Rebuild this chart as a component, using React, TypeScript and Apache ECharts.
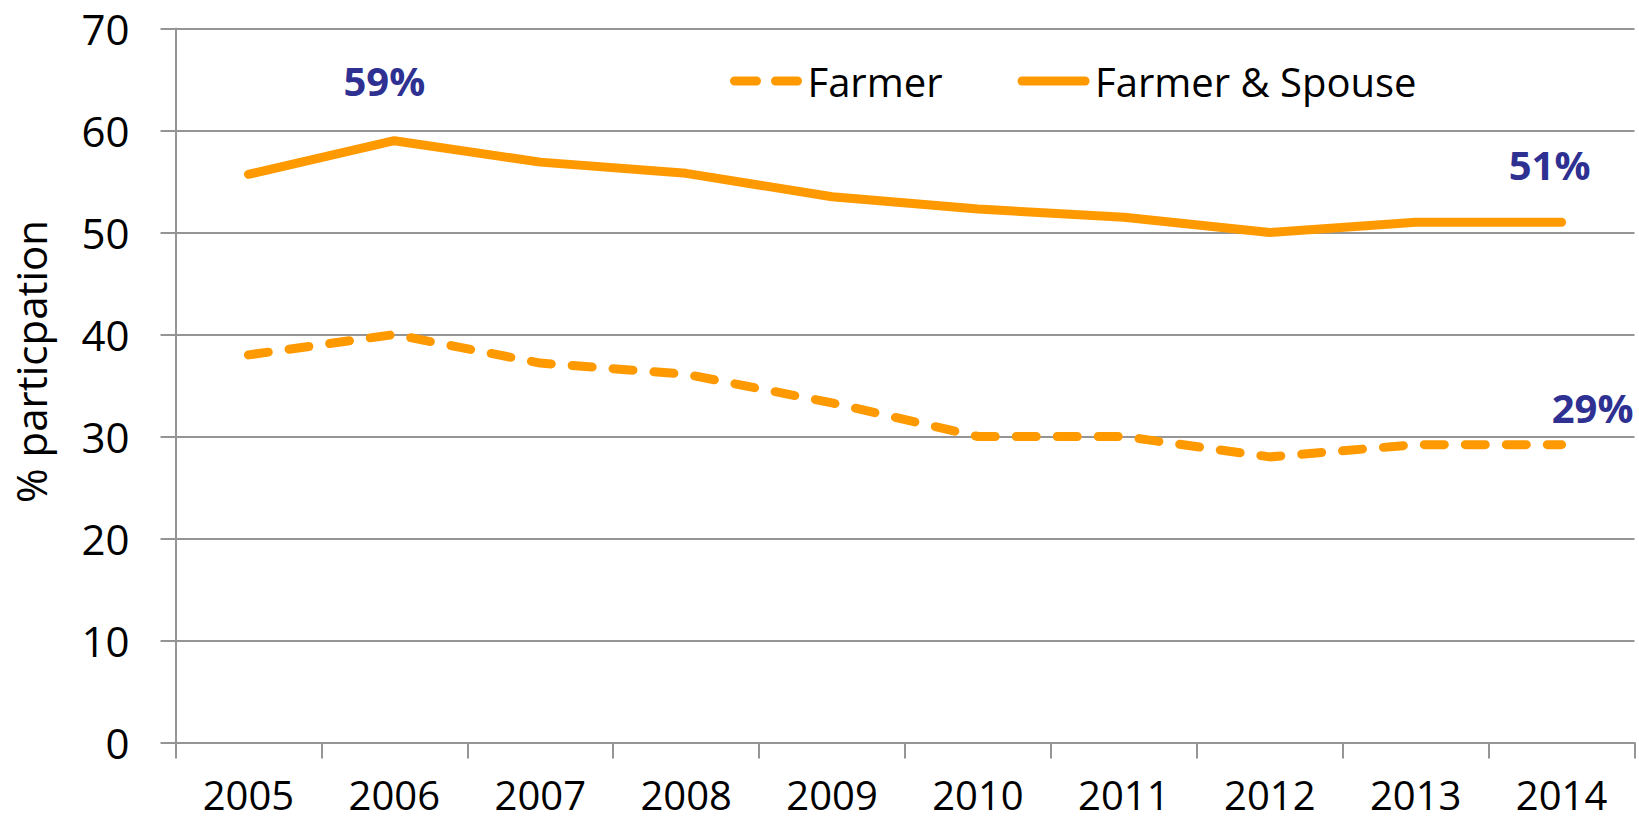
import React, { useEffect, useRef } from "react";
import * as echarts from "echarts";

const years = ["2005", "2006", "2007", "2008", "2009", "2010", "2011", "2012", "2013", "2014"];
const farmer = [38, 40, 37.2, 36.1, 33.3, 30, 30, 28, 29.2, 29.2];
const farmerSpouse = [55.7, 59, 56.9, 55.8, 53.5, 52.3, 51.5, 50, 51, 51];
const yMin = 0;
const yMax = 70;
const yInterval = 10;
const spouseLabelIdx = [1, 9];
const farmerLabelIdx = [9];

const FONT = "'Open Sans', sans-serif";
const ORANGE = "#FF9900";
const NAVY = "#2E3192";
const GRAY = "#959595";
const CLEAR = "rgba(0,0,0,0)";

const labelOffsets: Record<string, [number, number]> = {
  "spouse-1": [-10, -40],
  "spouse-9": [-12, -37],
  "farmer-9": [31, -17],
};

function buildData(values: number[], idx: number[], key: string) {
  return values.map((v, i) =>
    idx.includes(i)
      ? {
          value: v,
          label: {
            show: true,
            position: "top",
            distance: 0,
            offset: labelOffsets[`${key}-${i}`],
            formatter: (p: any) => Math.round(p.value) + "%",
            fontFamily: FONT,
            fontWeight: "bold",
            fontSize: 40,
            color: NAVY,
          },
        }
      : v
  );
}

export default function App() {
  const ref = useRef<HTMLDivElement>(null);
  useEffect(() => {
    if (!ref.current) return;
    const chart = echarts.init(ref.current, undefined, { renderer: "svg" });
    chart.setOption({
      animation: false,
      backgroundColor: "#ffffff",
      textStyle: { fontFamily: FONT },
      grid: { left: 175.5, right: 4.5, top: 28.5, bottom: 81.5 },
      legend: {
        left: 725,
        top: 56,
        itemWidth: 63,
        itemHeight: 10,
        itemGap: 75,
        textStyle: { fontFamily: FONT, fontSize: 40, color: "#000", padding: [0, 0, 0, 5] },
        data: [
          {
            name: "Farmer",
            itemStyle: { color: CLEAR, borderWidth: 0 },
            lineStyle: { width: 9, type: [22, 19], cap: "round", color: ORANGE },
          },
          {
            name: "Farmer & Spouse",
            itemStyle: { color: CLEAR, borderWidth: 0 },
            lineStyle: { width: 9, type: "solid", cap: "round", color: ORANGE },
          },
        ],
      },
      xAxis: {
        type: "category",
        data: years,
        boundaryGap: true,
        axisLine: { show: true, lineStyle: { color: GRAY, width: 2 } },
        axisTick: { show: true, length: 16, lineStyle: { color: GRAY, width: 2 } },
        axisLabel: { margin: 37, lineHeight: 30, fontFamily: FONT, fontSize: 40, color: "#000" },
        splitLine: { show: false },
      },
      yAxis: {
        type: "value",
        min: yMin,
        max: yMax,
        interval: yInterval,
        name: "% particpation",
        nameLocation: "middle",
        nameGap: 124,
        nameTextStyle: { fontFamily: FONT, fontSize: 42, color: "#000", padding: [0, 0, 0, 48] },
        axisLine: { show: true, lineStyle: { color: GRAY, width: 2 } },
        axisTick: { show: true, length: 15, lineStyle: { color: GRAY, width: 2 } },
        axisLabel: { margin: 46, fontFamily: FONT, fontSize: 42, color: "#000" },
        splitLine: { show: true, lineStyle: { color: GRAY, width: 2 } },
      },
      series: [
        {
          name: "Farmer",
          type: "line",
          data: buildData(farmer, farmerLabelIdx, "farmer"),
          symbol: "circle",
          symbolSize: 1,
          showSymbol: true,
          itemStyle: { color: CLEAR, borderWidth: 0 },
          lineStyle: { color: ORANGE, width: 9, type: [20, 21], cap: "round", join: "round" },
          label: { show: false },
          emphasis: { disabled: true },
          z: 3,
        },
        {
          name: "Farmer & Spouse",
          type: "line",
          data: buildData(farmerSpouse, spouseLabelIdx, "spouse"),
          symbol: "circle",
          symbolSize: 1,
          showSymbol: true,
          itemStyle: { color: CLEAR, borderWidth: 0 },
          lineStyle: { color: ORANGE, width: 9, type: "solid", cap: "round", join: "round" },
          label: { show: false },
          emphasis: { disabled: true },
          z: 3,
        },
      ],
    });
    return () => chart.dispose();
  }, []);
  return (
    <div
      ref={ref}
      style={{ position: "fixed", left: 0, top: 0, width: 1639, height: 824, background: "#fff" }}
    />
  );
}
